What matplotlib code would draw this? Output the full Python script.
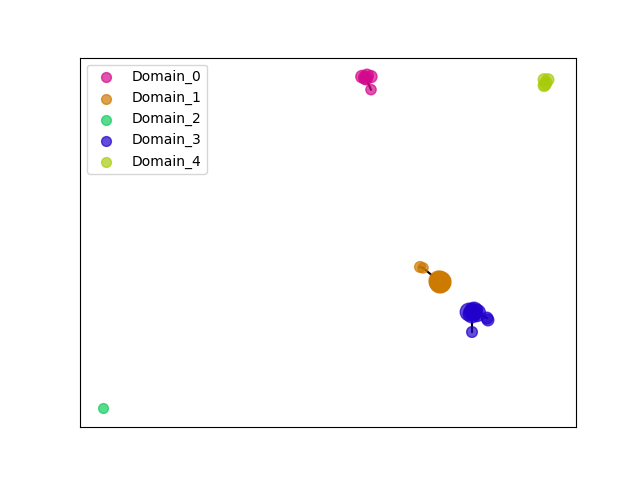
import matplotlib
matplotlib.use('Agg')
import matplotlib.pyplot as plt

# Node positions and sizes per domain (embedding coordinates)
domains = ['Domain_0', 'Domain_1', 'Domain_2', 'Domain_3', 'Domain_4']
colors = ['#d4098c', '#cc7a00', '#12cc5e', '#2200cc', '#a8cc0c']

x0 = [362, 367, 371, 366, 365, 371]
y0 = [403, 404, 403, 401, 402, 390]
s0 = [80, 85, 75, 80, 85, 55]
x1 = [420, 423, 440, 439, 441, 440, 440]
y1 = [213, 212, 198, 199, 198, 197, 198]
s1 = [60, 55, 220, 210, 210, 210, 220]
x2 = [103]
y2 = [72]
s2 = [50]
x3 = [469, 474, 477, 472, 473, 487, 488, 472]
y3 = [168, 169, 167, 166, 168, 162, 160, 148]
s3 = [160, 160, 150, 160, 160, 70, 70, 60]
x4 = [544, 548, 545, 546, 544]
y4 = [400, 400, 395, 397, 394]
s4 = [70, 70, 70, 70, 70]

xs = [x0, x1, x2, x3, x4]
ys = [y0, y1, y2, y3, y4]
sizes = [s0, s1, s2, s3, s4]

# edges as (domain, node_a, node_b)
edges = [(1, 0, 1), (1, 1, 2), (3, 3, 7), (3, 0, 1), (3, 2, 5),
         (0, 0, 1), (0, 3, 5), (4, 0, 1), (4, 1, 2)]

fig, ax = plt.subplots(figsize=(6.4, 4.8), dpi=100)

for d, a, b in edges:
    ax.plot([xs[d][a], xs[d][b]], [ys[d][a], ys[d][b]],
            color='black', linewidth=1.5, zorder=1)

for i, name in enumerate(domains):
    ax.scatter(xs[i], ys[i], s=sizes[i], color=colors[i], alpha=0.7,
               label=name, zorder=2)

ax.set_xlim(80, 576)
ax.set_ylim(53, 422)
ax.set_xticks([])
ax.set_yticks([])
leg = ax.legend(loc='upper left')
for h in leg.legend_handles:
    h.set_sizes([50])

plt.savefig('out.png', dpi=100)
